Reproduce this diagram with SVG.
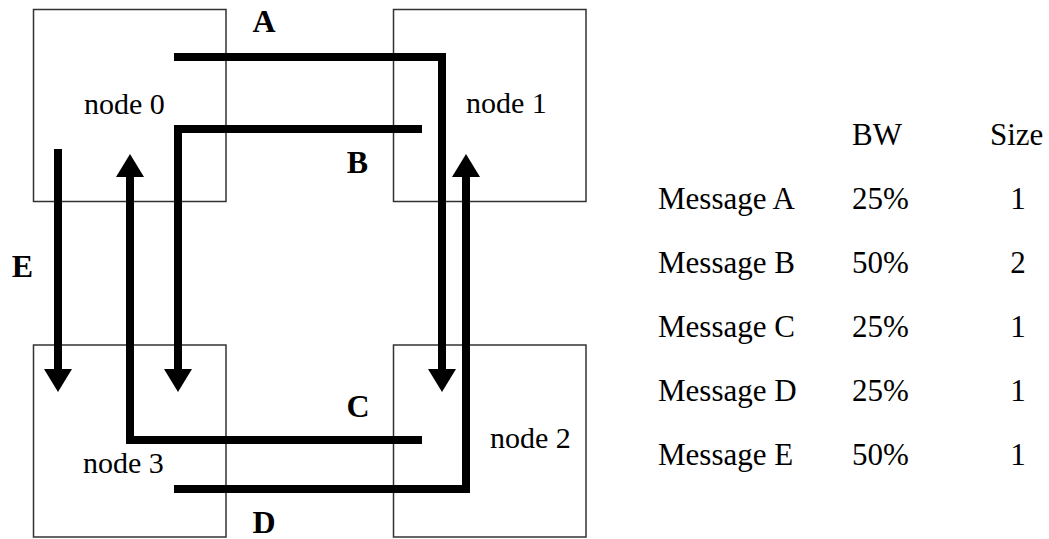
<svg xmlns="http://www.w3.org/2000/svg" width="1049" height="539" viewBox="0 0 1049 539">
<defs>
<marker id="ah" markerUnits="userSpaceOnUse" markerWidth="24" markerHeight="28" refX="0" refY="14" orient="auto" viewBox="0 0 24 28">
<path d="M0,0 L23,14 L0,28 Z" fill="#000"/>
</marker>
<style>
.box{fill:#fff;stroke:#333;stroke-width:1.5}
.lbl{font-family:"Liberation Serif","Times New Roman",serif;font-size:30px;fill:#000}
.tbl{font-family:"Liberation Serif","Times New Roman",serif;font-size:31px;fill:#000}
.big{font-family:"Liberation Serif","Times New Roman",serif;font-size:32px;font-weight:bold;fill:#000}
.conn{fill:none;stroke:#000;stroke-width:8;stroke-linejoin:miter;stroke-linecap:butt;marker-end:url(#ah)}
</style>
</defs>
<rect width="1049" height="539" fill="#fff"/>
<g id="node0"><rect class="box" x="33.5" y="9.5" width="192.5" height="192"/><text class="lbl" x="84" y="114">node 0</text></g>
<g id="node1"><rect class="box" x="393.5" y="9.5" width="192.5" height="192"/><text class="lbl" x="466" y="113">node 1</text></g>
<g id="node2"><rect class="box" x="393.5" y="345" width="192.5" height="192"/><text class="lbl" x="490" y="448">node 2</text></g>
<g id="node3"><rect class="box" x="33.5" y="345" width="192.5" height="192"/><text class="lbl" x="83" y="473">node 3</text></g>
<g id="connectors">
<path id="msgA" class="conn" d="M174,57 H442 V369"/>
<path id="msgB" class="conn" d="M422,129 H178 V369"/>
<path id="msgC" class="conn" d="M422,440 H130 V177"/>
<path id="msgD" class="conn" d="M174,489 H466 V177"/>
<path id="msgE" class="conn" d="M58,149 V369"/>
</g>
<g id="labels">
<text class="big" x="264" y="32" text-anchor="middle">A</text>
<text class="big" x="357.5" y="173" text-anchor="middle">B</text>
<text class="big" x="358" y="417" text-anchor="middle">C</text>
<text class="big" x="264" y="533" text-anchor="middle">D</text>
<text class="big" x="22.5" y="277" text-anchor="middle">E</text>
</g>
<g id="table">
<text class="tbl" x="852" y="145">BW</text>
<text class="tbl" x="990" y="145">Size</text>
<text class="tbl" x="658" y="209">Message A</text><text class="tbl" x="852" y="209">25%</text><text class="tbl" x="1018" y="209" text-anchor="middle">1</text>
<text class="tbl" x="658" y="273">Message B</text><text class="tbl" x="852" y="273">50%</text><text class="tbl" x="1018" y="273" text-anchor="middle">2</text>
<text class="tbl" x="658" y="337">Message C</text><text class="tbl" x="852" y="337">25%</text><text class="tbl" x="1018" y="337" text-anchor="middle">1</text>
<text class="tbl" x="658" y="401">Message D</text><text class="tbl" x="852" y="401">25%</text><text class="tbl" x="1018" y="401" text-anchor="middle">1</text>
<text class="tbl" x="658" y="465">Message E</text><text class="tbl" x="852" y="465">50%</text><text class="tbl" x="1018" y="465" text-anchor="middle">1</text>
</g>
</svg>
